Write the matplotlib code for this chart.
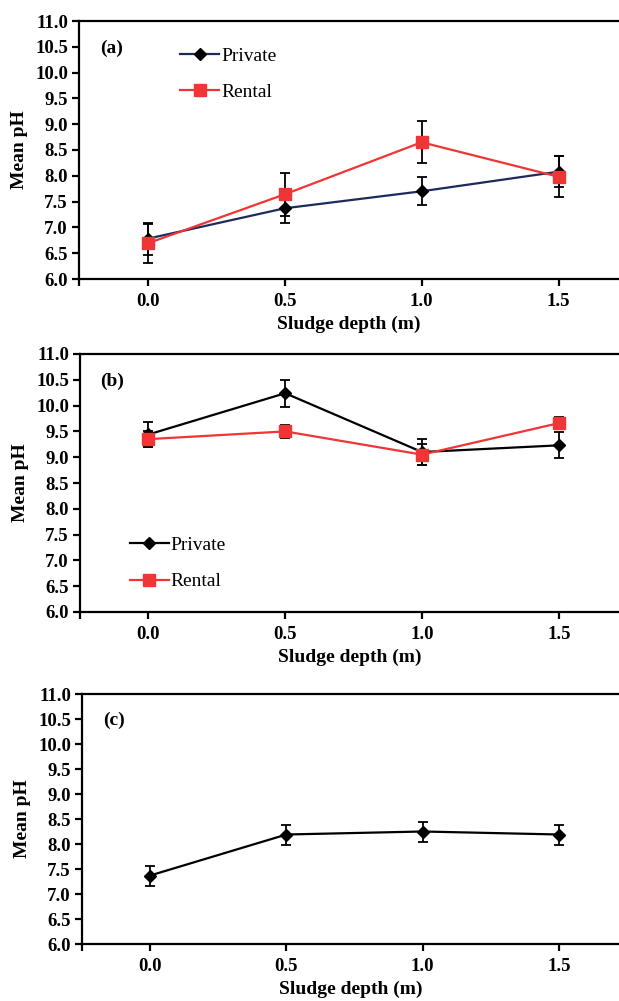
"""
plot.py - mean pH of faecal sludge by depth, three stacked panels
"""

import matplotlib.pyplot as plt

plt.rcParams.update({
    "font.family": "Liberation Serif",
    "font.weight": "bold",
    "axes.linewidth": 1.6,
    "xtick.major.width": 1.6,
    "ytick.major.width": 1.6,
    "xtick.major.size": 5,
    "ytick.major.size": 5,
})

# Sludge depths (m)
depth = [0.0, 0.5, 1.0, 1.5]

# Panel (a)
a_private = [6.78, 7.37, 7.70, 8.08]
a_private_err = [0.31, 0.29, 0.27, 0.30]
a_rental = [6.69, 7.64, 8.65, 7.98]
a_rental_err = [0.38, 0.41, 0.41, 0.40]

# Panel (b)
b_private = [9.44, 10.24, 9.10, 9.23]
b_private_err = [0.25, 0.26, 0.26, 0.25]
b_rental = [9.35, 9.50, 9.05, 9.66]
b_rental_err = [0.16, 0.13, 0.20, 0.12]

# Panel (c)
c_mean = [7.37, 8.19, 8.25, 8.19]
c_err = [0.20, 0.20, 0.20, 0.20]

yticks = [6.0 + 0.5 * i for i in range(11)]
xticks = [-0.25, 0.0, 0.5, 1.0, 1.5]
xticklabels = ["", "0.0", "0.5", "1.0", "1.5"]

NAVY = "#1c2a5c"
RED = "#ef3535"
W, H = 619, 1001
LEGEND_FONT = {"family": "Liberation Serif", "weight": "normal", "size": 14}


def style_axes(ax, label):
    ax.set_xlim(-0.25, 1.72)
    ax.set_ylim(6.0, 11.0)
    ax.set_yticks(yticks)
    ax.set_yticklabels([f"{v:.1f}" for v in yticks], fontsize=13.5, fontweight="bold")
    ax.set_xticks(xticks)
    ax.set_xticklabels(xticklabels, fontsize=13.5, fontweight="bold")
    ax.spines["right"].set_visible(False)
    ax.tick_params(axis="x", pad=5)
    ax.tick_params(axis="y", pad=3)
    ax.set_xlabel("Sludge depth (m)", fontsize=14, fontweight="bold", labelpad=4)
    ax.set_ylabel("Mean pH", fontsize=14, fontweight="bold", labelpad=5)
    ax.text(0.06, 0.895, label, transform=ax.transAxes, fontsize=14,
            fontweight="bold", ha="center", va="center")


def draw_series(ax, y, err, color, marker, ms, label):
    ax.errorbar(depth, y, yerr=err, fmt="none", ecolor="black",
                elinewidth=1.3, capsize=3.5, capthick=1.3, zorder=2)
    mfc = "black" if marker == "D" else color
    ax.plot(depth, y, color=color, lw=1.6, marker=marker, ms=ms,
            mfc=mfc, mec=mfc, label=label, zorder=3)


fig = plt.figure(figsize=(W / 100, H / 100), dpi=100)

# axes placed in pixel terms of the reference
ax_a = fig.add_axes([79 / W, 1 - 279 / H, 540 / W, 258 / H])
ax_b = fig.add_axes([80 / W, 1 - 612 / H, 539 / W, 258 / H])
ax_c = fig.add_axes([82 / W, 1 - 944 / H, 537 / W, 250 / H])

draw_series(ax_a, a_private, a_private_err, NAVY, "D", 6.5, "Private")
draw_series(ax_a, a_rental, a_rental_err, RED, "s", 8.5, "Rental")
style_axes(ax_a, "(a)")
ax_a.legend(loc="upper left", bbox_to_anchor=(0.155, 0.965), frameon=False,
            prop=LEGEND_FONT, handlelength=2.0, handletextpad=0.1,
            labelspacing=0.95)

draw_series(ax_b, b_private, b_private_err, "black", "D", 6.5, "Private")
draw_series(ax_b, b_rental, b_rental_err, RED, "s", 8.5, "Rental")
style_axes(ax_b, "(b)")
ax_b.legend(loc="upper left", bbox_to_anchor=(0.06, 0.36), frameon=False,
            prop=LEGEND_FONT, handlelength=2.0, handletextpad=0.1,
            labelspacing=0.95)

draw_series(ax_c, c_mean, c_err, "black", "D", 6.5, None)
style_axes(ax_c, "(c)")

fig.savefig("out.png", dpi=100, facecolor="white")
